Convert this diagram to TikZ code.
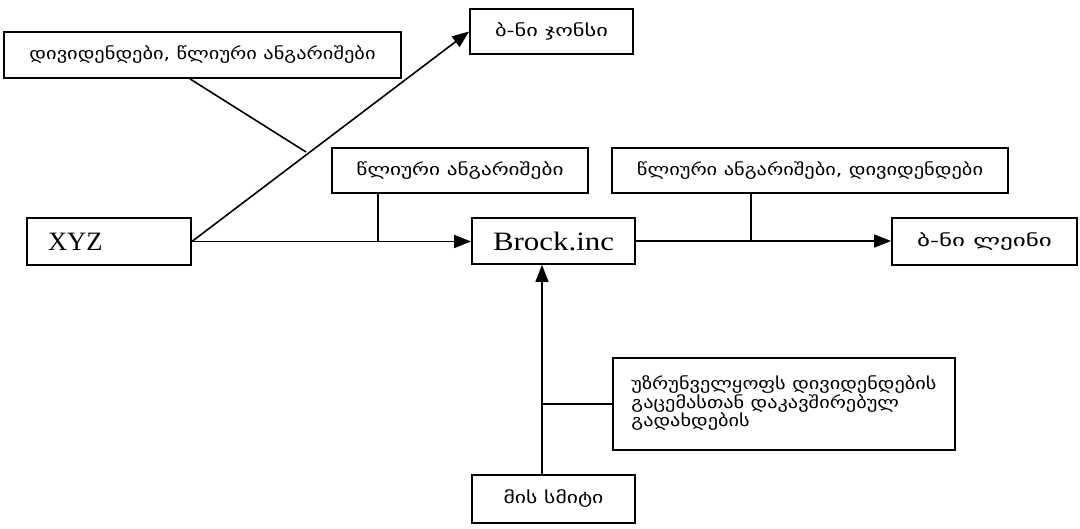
\documentclass[tikz,border=0pt]{standalone}
\usepackage{fontspec}
\setmainfont{Liberation Serif}
\newfontfamily\geo{DejaVu Sans}
\usetikzlibrary{arrows.meta}
\newcommand{\gtxt}[2]{\resizebox{#1}{\height}{\geo #2}}
\begin{document}
\begin{tikzpicture}[x=1pt,y=-1pt,
  box/.style={draw, line width=1.8pt, inner sep=0pt, anchor=center, font=\fontsize{16.5}{18}\selectfont},
  latin/.style={font=\fontsize{26.5}{28}\selectfont},
  arr/.style={-{Triangle[length=17pt,width=13pt]}, line width=1.6pt},
  ln/.style={line width=1.6pt}]
\useasboundingbox (0,0) rectangle (1080,529);
\node[box, minimum width=397pt, minimum height=46pt] (div) at (202.5,55) {\gtxt{346pt}{დივიდენდები, წლიური ანგარიშები}};
\node[box, minimum width=163pt, minimum height=45pt] (jones) at (551.5,31.5) {\gtxt{113pt}{ბ-ნი ჯონსი}};
\node[box, minimum width=256pt, minimum height=45pt] (ann) at (460,170.5) {\gtxt{207pt}{წლიური ანგარიშები}};
\node[box, minimum width=396pt, minimum height=45pt] (rann) at (810,170.5) {\gtxt{346pt}{წლიური ანგარიშები, დივიდენდები}};
\node[box, latin, minimum width=164pt, minimum height=47pt] (xyz) at (109,241.5) {\makebox[164pt][l]{\hspace{21pt}XYZ}};
\node[box, latin, minimum width=163pt, minimum height=46pt] (brock) at (553.5,241) {\raisebox{-3pt}{\resizebox{121pt}{\height}{Brock.inc}}};
\node[box, minimum width=185pt, minimum height=47pt] (lane) at (984.5,241.5) {\gtxt{135pt}{ბ-ნი ლეინი}};
\node[box, minimum width=342pt, minimum height=92pt] (uzr) at (784,404) {\resizebox{305pt}{\height}{\geo\begin{tabular}{@{}l@{}}უზრუნველყოფს დივიდენდების\\[-1pt]გაცემასთან დაკავშირებულ\\[-1pt]გადახდების\end{tabular}}};
\node[box, minimum width=163pt, minimum height=48pt] (smith) at (553.5,499) {\gtxt{100pt}{მის სმიტი}};
\coordinate (dj) at (306,152);
\coordinate (j1) at (378,241.5);
\coordinate (j2) at (751,241);
\coordinate (j3) at (542,404);
\draw[arr] (xyz.east) -- (jones.west);
\draw[ln] ([xshift=-12.5pt]div.south) -- (dj);
\draw[arr] (xyz.east) -- (xyz.east -| brock.west);
\draw[ln] (ann.south -| j1) -- (j1);
\draw[arr] (brock.east) -- (brock.east -| lane.west);
\draw[ln] (rann.south -| j2) -- (j2);
\draw[arr] ([xshift=-11.5pt]smith.north) -- ([xshift=-11.5pt]brock.south);
\draw[ln] (j3) -- (uzr.west);
\end{tikzpicture}
\end{document}
